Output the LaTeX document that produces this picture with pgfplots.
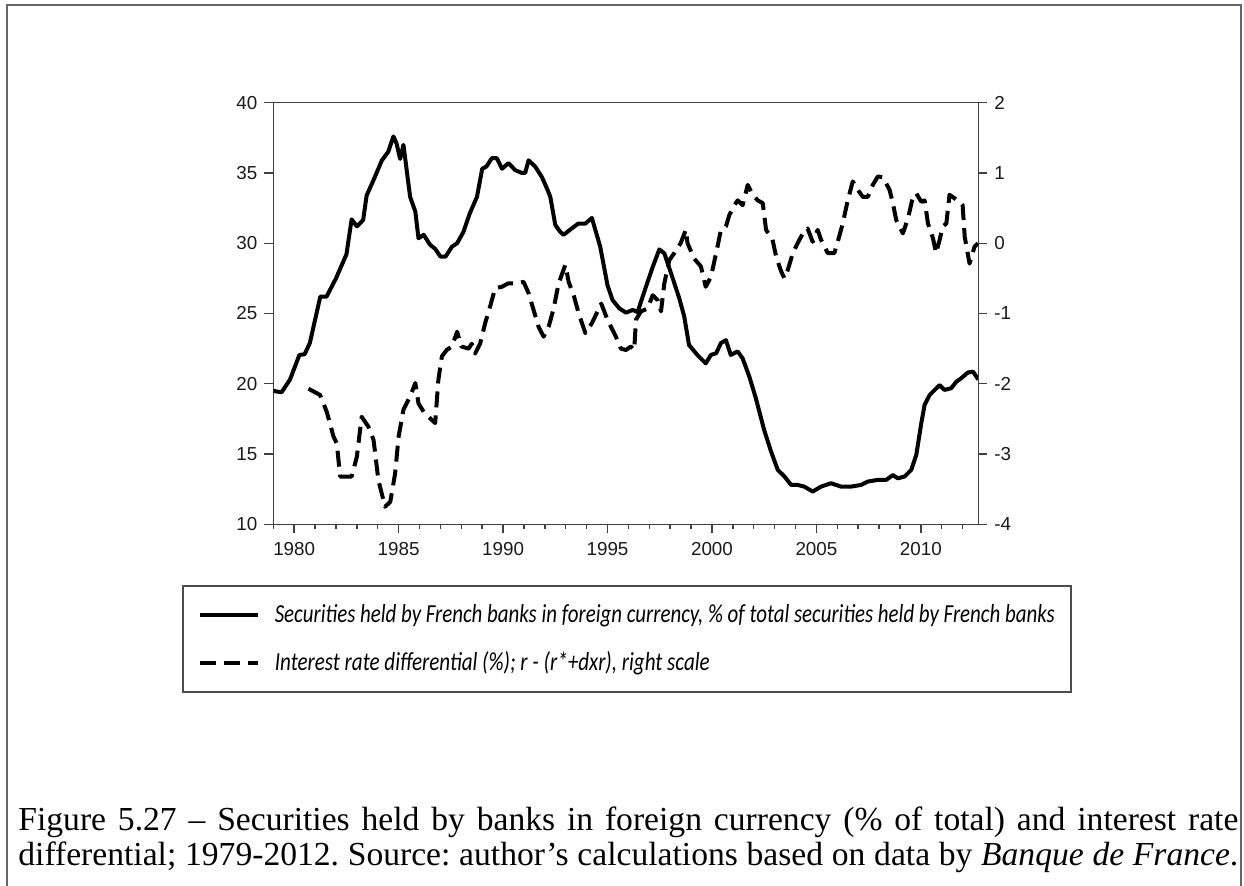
\documentclass[border=0pt]{standalone}
\usepackage{fontspec}
\usepackage{graphicx}
\usepackage{pgfplots}
\pgfplotsset{compat=1.18}
\setmainfont{Liberation Serif}
\newfontfamily\arial{Liberation Sans}
\newfontfamily\legfont{Carlito}
\frenchspacing

\pgfplotstableread{
x y
1979.0 19.5
1979.15 19.45
1979.4 19.4
1979.8 20.3
1980.25 22.05
1980.5 22.1
1980.75 22.9
1981.25 26.2
1981.55 26.2
1982.0 27.5
1982.5 29.2
1982.75 31.7
1983.0 31.2
1983.3 31.65
1983.47 33.4
1983.8 34.5
1984.2 35.9
1984.5 36.5
1984.75 37.6
1984.9 37.1
1985.07 36.0
1985.23 37.0
1985.55 33.3
1985.8 32.25
1985.95 30.35
1986.2 30.6
1986.5 29.9
1986.75 29.6
1987.0 29.05
1987.25 29.05
1987.55 29.75
1987.8 30.0
1988.1 30.8
1988.4 32.1
1988.75 33.3
1989.0 35.3
1989.2 35.45
1989.46 36.05
1989.7 36.05
1989.95 35.3
1990.26 35.7
1990.58 35.2
1990.9 35.0
1991.06 35.0
1991.22 35.9
1991.54 35.45
1991.86 34.7
1992.1 33.9
1992.26 33.3
1992.5 31.3
1992.74 30.8
1992.9 30.6
1993.2 30.95
1993.6 31.4
1993.94 31.4
1994.25 31.8
1994.65 29.75
1995.0 27.0
1995.24 25.96
1995.56 25.37
1995.88 25.06
1996.2 25.25
1996.44 25.1
1996.76 26.55
1997.16 28.3
1997.48 29.56
1997.72 29.28
1998.1 27.6
1998.43 26.1
1998.67 24.8
1998.9 22.76
1999.3 22.05
1999.7 21.45
1999.95 22.05
2000.2 22.17
2000.43 22.9
2000.67 23.1
2000.9 22.05
2001.23 22.3
2001.47 21.8
2001.79 20.5
2002.1 18.97
2002.5 16.7
2002.83 15.17
2003.15 13.87
2003.47 13.4
2003.79 12.8
2004.1 12.8
2004.42 12.68
2004.82 12.33
2005.22 12.68
2005.7 12.92
2006.18 12.68
2006.66 12.68
2007.14 12.8
2007.46 13.04
2007.94 13.16
2008.34 13.16
2008.66 13.5
2008.9 13.27
2009.22 13.4
2009.54 13.87
2009.78 14.93
2010.02 17.19
2010.18 18.5
2010.42 19.2
2010.66 19.56
2010.9 19.9
2011.13 19.56
2011.45 19.68
2011.7 20.15
2011.93 20.39
2012.25 20.8
2012.5 20.86
2012.75 20.3
}\securities

\pgfplotstableread{
x y
1980.68 -2.07
1981.24 -2.16
1981.56 -2.4
1981.88 -2.75
1982.04 -2.85
1982.2 -3.32
1982.43 -3.32
1982.75 -3.32
1983.0 -3.04
1983.23 -2.47
1983.55 -2.61
1983.8 -2.8
1984.03 -3.37
1984.35 -3.75
1984.6 -3.68
1984.83 -3.28
1985.0 -2.75
1985.23 -2.37
1985.55 -2.18
1985.8 -1.99
1985.95 -2.28
1986.2 -2.4
1986.5 -2.49
1986.75 -2.56
1986.9 -1.95
1987.07 -1.61
1987.3 -1.52
1987.55 -1.47
1987.8 -1.26
1988.0 -1.47
1988.35 -1.5
1988.5 -1.43
1988.66 -1.57
1988.9 -1.43
1989.14 -1.14
1989.38 -0.9
1989.62 -0.64
1989.94 -0.62
1990.26 -0.57
1990.66 -0.57
1990.98 -0.55
1991.22 -0.71
1991.46 -0.95
1991.7 -1.19
1991.94 -1.33
1992.18 -1.19
1992.42 -0.93
1992.66 -0.57
1992.98 -0.31
1993.14 -0.55
1993.38 -0.74
1993.62 -1.0
1993.94 -1.28
1994.25 -1.14
1994.7 -0.86
1995.0 -1.09
1995.4 -1.33
1995.64 -1.5
1995.88 -1.52
1996.12 -1.47
1996.28 -1.52
1996.36 -1.09
1996.6 -0.97
1996.92 -0.93
1997.16 -0.74
1997.4 -0.81
1997.56 -0.97
1997.72 -0.57
1997.96 -0.24
1998.2 -0.14
1998.5 0.0
1998.75 0.19
1998.83 0.0
1999.15 -0.22
1999.47 -0.33
1999.7 -0.62
1999.95 -0.48
2000.2 -0.14
2000.43 0.19
2000.67 0.24
2000.83 0.40
2001.07 0.54
2001.23 0.61
2001.47 0.54
2001.71 0.83
2001.95 0.69
2002.19 0.61
2002.43 0.57
2002.59 0.19
2002.9 0.05
2003.07 -0.19
2003.31 -0.4
2003.47 -0.5
2003.63 -0.38
2003.87 -0.14
2004.1 0.0
2004.35 0.14
2004.58 0.21
2004.82 0.02
2005.06 0.19
2005.22 0.05
2005.54 -0.14
2005.86 -0.14
2006.02 0.02
2006.26 0.28
2006.5 0.61
2006.74 0.88
2006.98 0.76
2007.22 0.66
2007.46 0.66
2007.7 0.83
2007.94 0.95
2008.18 0.94
2008.5 0.76
2008.66 0.57
2008.82 0.33
2009.14 0.14
2009.38 0.35
2009.62 0.66
2009.78 0.71
2010.02 0.59
2010.18 0.61
2010.34 0.28
2010.58 0.07
2010.73 -0.14
2010.9 0.05
2011.05 0.24
2011.22 0.28
2011.37 0.69
2011.61 0.64
2011.85 0.59
2012.0 0.54
2012.1 0.09
2012.33 -0.29
2012.57 -0.05
2012.73 0.0
}\differential

\pgfplotsset{
  common/.style={
    at={(136.65pt,180.85pt)}, anchor=south west,
    scale only axis, width=352.5pt, height=210.8pt,
    xmin=1979, xmax=2012.75,
    tick align=outside,
    major tick length=4.5pt, minor tick length=2.5pt,
    axis line style={draw=black!75, line width=0.7pt},
    every tick/.style={draw=black!75, line width=0.7pt},
    tick label style={font=\arial\fontsize{9.4}{11}\selectfont, text=black!90},
    /pgf/number format/assume math mode=true,
    /pgf/number format/1000 sep={},
  },
  legimg/.style={
    legend image code/.code={\draw[##1] (7.5pt,0pt) -- (36.5pt,0pt); \path (0pt,-11pt) (44pt,11pt);},
  },
}

\begin{document}
\begin{tikzpicture}
\path[use as bounding box] (0pt,0pt) rectangle (622pt,443pt);
\draw[black!60, line width=0.9pt] (3.5pt,0pt) -- (3.5pt,440.5pt) -- (620.5pt,440.5pt) -- (620.5pt,0pt);

\begin{axis}[common,
  ymin=10, ymax=40, ytick={10,15,...,40},
  xtick={1980,1985,...,2010}, minor xtick={1979,...,2012},
  xtick pos=bottom, ytick pos=left,
  xticklabel style={yshift=-1pt},
]
\addplot[black, line width=2pt, line join=round] table[x=x,y=y] {\securities};
\end{axis}

\begin{axis}[common,
  ymin=-4, ymax=2, ytick={-4,...,2},
  axis y line*=right, axis x line=none,
  legend style={at={(-0.1295,-0.144)}, anchor=north west, draw=black!70, line width=0.8pt,
     inner xsep=0pt, inner ysep=2.5pt, row sep=0pt, column sep=0pt,
     nodes={inner sep=0pt}, font=\legfont\itshape\fontsize{13}{15}\selectfont},
  legend cell align=left,
  legimg,
]
\addlegendimage{black, line width=2pt}
\addlegendentry{\makebox[398pt][l]{\resizebox{390pt}{\height}{Securities held by French banks in foreign currency, \% of total securities held by French banks}}}
\addplot[black, line width=2pt, dash pattern=on 8pt off 4pt, line join=round] table[x=x,y=y] {\differential};
\addlegendentry{\makebox[398pt][l]{\resizebox{217.5pt}{\height}{Interest rate differential (\%); r - (r*+dxr), right scale}}}
\end{axis}

\node[anchor=base west, inner sep=0pt, font=\fontsize{16.8}{19}\selectfont] at (9pt,27.5pt)
  {\makebox[610pt][s]{Figure 5.27 – Securities held by banks in foreign currency (\% of total) and interest rate}};
\node[anchor=base west, inner sep=0pt, font=\fontsize{16.8}{19}\selectfont] at (9pt,10pt)
  {\makebox[610pt][s]{differential; 1979-2012. Source: author’s calculations based on data by \textit{Banque de France}.}};
\end{tikzpicture}
\end{document}
